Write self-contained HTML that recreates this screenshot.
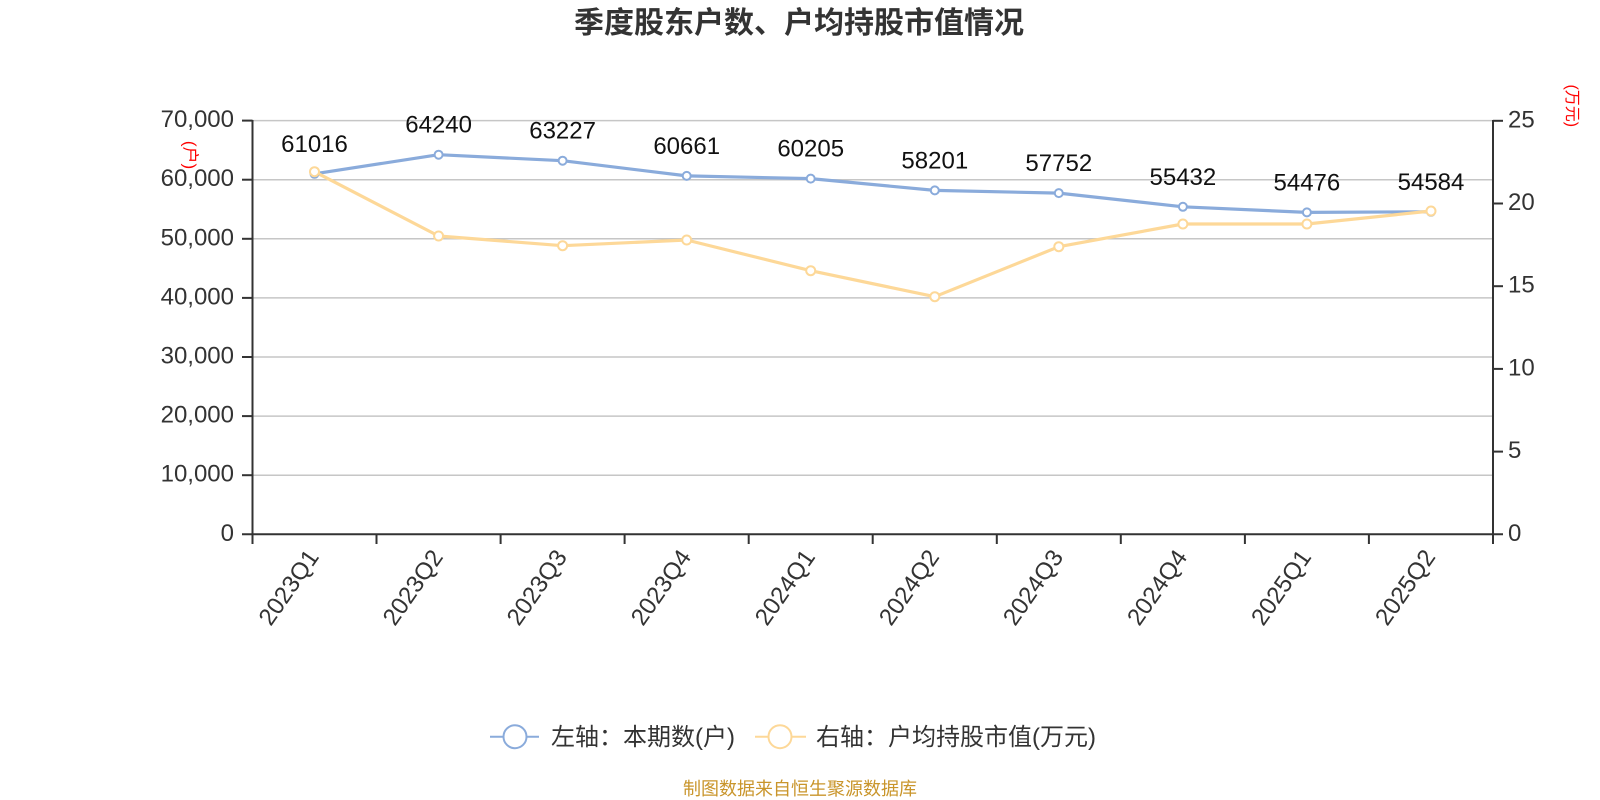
<!DOCTYPE html>
<html><head><meta charset="utf-8"><style>
html,body{margin:0;padding:0;background:#fff;}
svg{display:block;font-family:"Liberation Sans","Noto Sans CJK SC",sans-serif;}
</style></head><body>
<svg width="1600" height="800" viewBox="0 0 1600 800" xmlns="http://www.w3.org/2000/svg">
<rect width="1600" height="800" fill="#fff"/>
<text x="799" y="33" text-anchor="middle" font-size="30" font-weight="bold" fill="#333">季度股东户数、户均持股市值情况</text>

<!-- grid -->
<g stroke="#c6c6c6" stroke-width="1.5">
<line x1="252.5" y1="475.2" x2="1493" y2="475.2"/>
<line x1="252.5" y1="416.1" x2="1493" y2="416.1"/>
<line x1="252.5" y1="357.0" x2="1493" y2="357.0"/>
<line x1="252.5" y1="297.9" x2="1493" y2="297.9"/>
<line x1="252.5" y1="238.8" x2="1493" y2="238.8"/>
<line x1="252.5" y1="179.7" x2="1493" y2="179.7"/>
<line x1="252.5" y1="120.6" x2="1493" y2="120.6"/>
</g>

<!-- axes -->
<g stroke="#333" stroke-width="2">
<line x1="252.5" y1="120" x2="252.5" y2="535"/>
<line x1="1493" y1="120" x2="1493" y2="535"/>
<line x1="242" y1="534.3" x2="1503" y2="534.3"/>
<line x1="242" y1="475.2" x2="252.5" y2="475.2"/>
<line x1="242" y1="416.1" x2="252.5" y2="416.1"/>
<line x1="242" y1="357.0" x2="252.5" y2="357.0"/>
<line x1="242" y1="297.9" x2="252.5" y2="297.9"/>
<line x1="242" y1="238.8" x2="252.5" y2="238.8"/>
<line x1="242" y1="179.7" x2="252.5" y2="179.7"/>
<line x1="242" y1="120.6" x2="252.5" y2="120.6"/>
<line x1="1493" y1="451.6" x2="1503" y2="451.6"/>
<line x1="1493" y1="368.9" x2="1503" y2="368.9"/>
<line x1="1493" y1="286.2" x2="1503" y2="286.2"/>
<line x1="1493" y1="203.5" x2="1503" y2="203.5"/>
<line x1="1493" y1="120.8" x2="1503" y2="120.8"/>
<line x1="252.5" y1="534.3" x2="252.5" y2="544"/>
<line x1="376.5" y1="534.3" x2="376.5" y2="544"/>
<line x1="500.6" y1="534.3" x2="500.6" y2="544"/>
<line x1="624.6" y1="534.3" x2="624.6" y2="544"/>
<line x1="748.7" y1="534.3" x2="748.7" y2="544"/>
<line x1="872.7" y1="534.3" x2="872.7" y2="544"/>
<line x1="996.8" y1="534.3" x2="996.8" y2="544"/>
<line x1="1120.8" y1="534.3" x2="1120.8" y2="544"/>
<line x1="1244.9" y1="534.3" x2="1244.9" y2="544"/>
<line x1="1368.9" y1="534.3" x2="1368.9" y2="544"/>
<line x1="1493" y1="534.3" x2="1493" y2="544"/>
</g>

<!-- left tick labels -->
<g font-size="24" fill="#333" text-anchor="end">
<text x="234" y="540.8">0</text>
<text x="234" y="481.7">10,000</text>
<text x="234" y="422.6">20,000</text>
<text x="234" y="363.5">30,000</text>
<text x="234" y="304.4">40,000</text>
<text x="234" y="245.3">50,000</text>
<text x="234" y="186.2">60,000</text>
<text x="234" y="127.1">70,000</text>
</g>
<!-- right tick labels -->
<g font-size="24" fill="#333" text-anchor="start">
<text x="1508" y="540.8">0</text>
<text x="1508" y="458.1">5</text>
<text x="1508" y="375.4">10</text>
<text x="1508" y="292.7">15</text>
<text x="1508" y="210.0">20</text>
<text x="1508" y="127.3">25</text>
</g>

<!-- axis names -->
<text x="190" y="155" font-size="17" fill="#ff0000" text-anchor="middle" dominant-baseline="central" transform="rotate(90 190 155)">(户)</text>
<text x="1571.7" y="105.8" font-size="16" fill="#ff0000" text-anchor="middle" dominant-baseline="central" transform="rotate(90 1571.7 105.8)">(万元)</text>

<!-- x labels -->
<g font-size="24" fill="#333" text-anchor="end">
<text x="319.8" y="557" transform="rotate(-55 319.8 557)">2023Q1</text>
<text x="443.9" y="557" transform="rotate(-55 443.9 557)">2023Q2</text>
<text x="567.9" y="557" transform="rotate(-55 567.9 557)">2023Q3</text>
<text x="692.0" y="557" transform="rotate(-55 692.0 557)">2023Q4</text>
<text x="816.0" y="557" transform="rotate(-55 816.0 557)">2024Q1</text>
<text x="940.1" y="557" transform="rotate(-55 940.1 557)">2024Q2</text>
<text x="1064.1" y="557" transform="rotate(-55 1064.1 557)">2024Q3</text>
<text x="1188.2" y="557" transform="rotate(-55 1188.2 557)">2024Q4</text>
<text x="1312.2" y="557" transform="rotate(-55 1312.2 557)">2025Q1</text>
<text x="1436.3" y="557" transform="rotate(-55 1436.3 557)">2025Q2</text>
</g>

<!-- blue series -->
<polyline fill="none" stroke="#8aabdb" stroke-width="3.2" stroke-linejoin="round"
 points="314.5,173.8 438.6,154.7 562.6,160.7 686.7,175.9 810.7,178.6 934.8,190.4 1058.8,193.1 1182.9,206.8 1306.9,212.4 1431.0,211.8"/>
<!-- orange series -->
<polyline fill="none" stroke="#fdd898" stroke-width="3.2" stroke-linejoin="round"
 points="314.5,171.7 438.6,236 562.6,245.7 686.7,240 810.7,270.7 934.8,296.7 1058.8,246.7 1182.9,224 1306.9,224 1431.0,211"/>

<g fill="#fff" stroke="#8aabdb" stroke-width="2">
<circle cx="314.5" cy="173.8" r="4"/>
<circle cx="438.6" cy="154.7" r="4"/>
<circle cx="562.6" cy="160.7" r="4"/>
<circle cx="686.7" cy="175.9" r="4"/>
<circle cx="810.7" cy="178.6" r="4"/>
<circle cx="934.8" cy="190.4" r="4"/>
<circle cx="1058.8" cy="193.1" r="4"/>
<circle cx="1182.9" cy="206.8" r="4"/>
<circle cx="1306.9" cy="212.4" r="4"/>
<circle cx="1431.0" cy="211.8" r="4"/>
</g>
<g fill="#fff" stroke="#fdd898" stroke-width="2">
<circle cx="314.5" cy="171.7" r="4.5"/>
<circle cx="438.6" cy="236" r="4.5"/>
<circle cx="562.6" cy="245.7" r="4.5"/>
<circle cx="686.7" cy="240" r="4.5"/>
<circle cx="810.7" cy="270.7" r="4.5"/>
<circle cx="934.8" cy="296.7" r="4.5"/>
<circle cx="1058.8" cy="246.7" r="4.5"/>
<circle cx="1182.9" cy="224" r="4.5"/>
<circle cx="1306.9" cy="224" r="4.5"/>
<circle cx="1431.0" cy="211" r="4.5"/>
</g>

<!-- data labels -->
<g font-size="24" fill="#111" text-anchor="middle">
<text x="314.5" y="151.8">61016</text>
<text x="438.6" y="132.7">64240</text>
<text x="562.6" y="138.7">63227</text>
<text x="686.7" y="153.9">60661</text>
<text x="810.7" y="156.6">60205</text>
<text x="934.8" y="168.4">58201</text>
<text x="1058.8" y="171.1">57752</text>
<text x="1182.9" y="184.8">55432</text>
<text x="1306.9" y="190.4">54476</text>
<text x="1431.0" y="189.8">54584</text>
</g>

<!-- legend -->
<line x1="490" y1="736.7" x2="539" y2="736.7" stroke="#8aabdb" stroke-width="2"/>
<circle cx="515" cy="736.7" r="11.5" fill="#fff" stroke="#8aabdb" stroke-width="2"/>
<text x="551" y="745" font-size="24" fill="#333">左轴：本期数(户)</text>
<line x1="755" y1="736.7" x2="806" y2="736.7" stroke="#fdd898" stroke-width="2"/>
<circle cx="780" cy="736.7" r="11.5" fill="#fff" stroke="#fdd898" stroke-width="2"/>
<text x="816" y="745" font-size="24" fill="#333">右轴：户均持股市值(万元)</text>

<!-- footer -->
<text x="800" y="795" font-size="18" fill="#c9952b" text-anchor="middle">制图数据来自恒生聚源数据库</text>
</svg>
</body></html>
